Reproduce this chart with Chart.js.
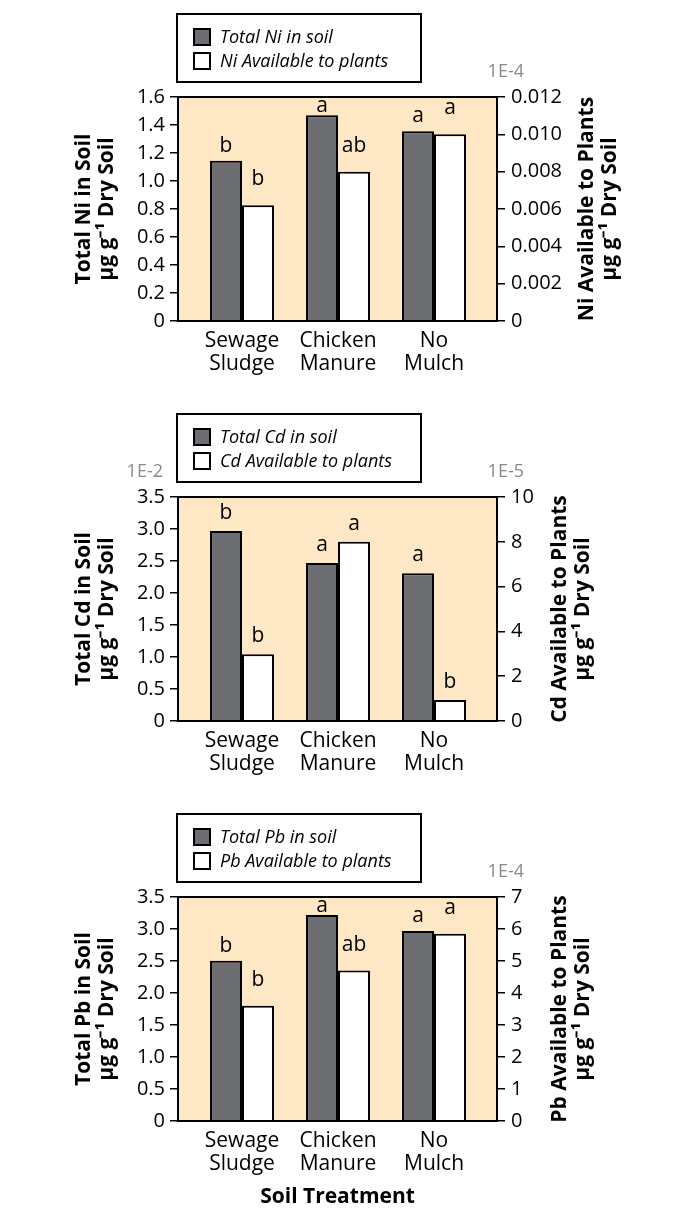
<!DOCTYPE html>
<html>
<head>
<meta charset="utf-8">
<script src="https://cdn.jsdelivr.net/npm/chart.js@4/dist/chart.umd.min.js"></script>
<style>
    body { margin: 0; background: #fff; }
    .panel { position: relative; width: 677px; }
</style>
</head>
<body>
<div class="panel" style="height:400px"><canvas id="ni_chart"></canvas></div>
<div class="panel" style="height:400px"><canvas id="cd_chart"></canvas></div>
<div class="panel" style="height:409px"><canvas id="pb_chart"></canvas></div>
<script>
const categories = ['Sewage Sludge', 'Chicken Manure', 'No Mulch'];

// Ni
const niTotal = [1.145, 1.47, 1.355];
const niAvailable = [0.0062, 0.0080, 0.0100];
const niTotalLetters = ['b', 'a', 'a'];
const niAvailableLetters = ['b', 'ab', 'a'];
const niTotalTicks = [0, 0.2, 0.4, 0.6, 0.8, 1.0, 1.2, 1.4, 1.6];
const niTotalTickLabels = ['0', '0.2', '0.4', '0.6', '0.8', '1.0', '1.2', '1.4', '1.6'];
const niAvailableTicks = [0, 0.002, 0.004, 0.006, 0.008, 0.010, 0.012];
const niAvailableTickLabels = ['0', '0.002', '0.004', '0.006', '0.008', '0.010', '0.012'];

// Cd
const cdTotal = [2.97, 2.47, 2.31];
const cdAvailable = [2.98, 8.0, 0.94];
const cdTotalLetters = ['b', 'a', 'a'];
const cdAvailableLetters = ['b', 'a', 'b'];
const cdTotalTicks = [0, 0.5, 1.0, 1.5, 2.0, 2.5, 3.0, 3.5];
const cdTotalTickLabels = ['0', '0.5', '1.0', '1.5', '2.0', '2.5', '3.0', '3.5'];
const cdAvailableTicks = [0, 2, 4, 6, 8, 10];
const cdAvailableTickLabels = ['0', '2', '4', '6', '8', '10'];

// Pb
const pbTotal = [2.505, 3.22, 2.97];
const pbAvailable = [3.6, 4.7, 5.85];
const pbTotalLetters = ['b', 'a', 'a'];
const pbAvailableLetters = ['b', 'ab', 'a'];
const pbTotalTicks = [0, 0.5, 1.0, 1.5, 2.0, 2.5, 3.0, 3.5];
const pbTotalTickLabels = ['0', '0.5', '1.0', '1.5', '2.0', '2.5', '3.0', '3.5'];
const pbAvailableTicks = [0, 1, 2, 3, 4, 5, 6, 7];
const pbAvailableTickLabels = ['0', '1', '2', '3', '4', '5', '6', '7'];

const FONT = "'Open Sans', sans-serif";
const PEACH = '#fee7c4';
const DARK = '#6d6e71';
const PLOT_TOP = 97;
const PLOT_BOTTOM = 321;

Chart.defaults.font.family = FONT;
Chart.defaults.color = '#000';

const panelPlugin = {
    id: 'panel',
    beforeDraw(chart) {
        const a = chart.chartArea;
        const ctx = chart.ctx;
        ctx.save();
        ctx.fillStyle = PEACH;
        ctx.fillRect(a.left, a.top, a.right - a.left, a.bottom - a.top);
        ctx.restore();
    },
    afterDatasetsDraw(chart) {
        const ctx = chart.ctx;
        const a = chart.chartArea;
        ctx.save();
        ctx.font = '21px ' + FONT;
        ctx.fillStyle = '#000';
        ctx.textAlign = 'center';
        ctx.textBaseline = 'alphabetic';
        chart.data.datasets.forEach((ds, di) => {
            chart.getDatasetMeta(di).data.forEach((bar, i) => {
                const y = Math.max(bar.y - ds.letterGap, a.top + 15);
                ctx.fillText(ds.letters[i], bar.x, y);
            });
        });
        ctx.restore();
    },
    afterDraw(chart, args, opts) {
        const ctx = chart.ctx;
        const a = chart.chartArea;
        ctx.save();
        // frame
        ctx.strokeStyle = '#000';
        ctx.lineWidth = 2;
        ctx.strokeRect(a.left, a.top, a.right - a.left, a.bottom - a.top);

        // legend box
        const bx = a.left - 1, by = a.top - 83, bw = 244, bh = 68;
        ctx.strokeRect(bx, by, bw, bh);
        ctx.font = 'italic 18px ' + FONT;
        ctx.textAlign = 'left';
        ctx.textBaseline = 'middle';
        chart.data.datasets.forEach((ds, di) => {
            const cy = by + 23 + di * 24;
            ctx.fillStyle = ds.backgroundColor;
            ctx.fillRect(bx + 17, cy - 8, 16, 16);
            ctx.strokeRect(bx + 17, cy - 8, 16, 16);
            ctx.fillStyle = '#000';
            ctx.fillText(ds.label, bx + 43, cy + 1);
        });

        // multipliers
        ctx.font = '18px ' + FONT;
        ctx.fillStyle = '#8a8a8a';
        ctx.textAlign = 'right';
        if (opts.leftMultiplier) ctx.fillText(opts.leftMultiplier, a.left - 15, a.top - 25);
        if (opts.rightMultiplier) ctx.fillText(opts.rightMultiplier, a.right + 27, a.top - 25);

        // right axis title, reading upward
        ctx.translate(opts.rightTitleX, (a.top + a.bottom) / 2);
        ctx.rotate(-Math.PI / 2);
        ctx.font = 'bold 21px ' + FONT;
        ctx.fillStyle = '#000';
        ctx.textAlign = 'center';
        opts.rightTitle.forEach((line, i) => ctx.fillText(line, 0, i * 23));
        ctx.restore();
    }
};

function make_chart(id, c) {
    const canvas = document.getElementById(id);
    const height = canvas.parentNode.clientHeight;
    return new Chart(canvas, {
        type: 'bar',
        data: {
            datasets: [{
                label: c.totalLabel,
                data: c.total.map((v, i) => ({ x: i + 1, y: v })),
                backgroundColor: DARK,
                borderColor: '#000',
                borderWidth: 2,
                yAxisID: 'y',
                letters: c.totalLetters,
                letterGap: c.gaps[0]
            }, {
                label: c.availableLabel,
                data: c.available.map((v, i) => ({ x: i + 1, y: v })),
                backgroundColor: '#ffffff',
                borderColor: '#000',
                borderWidth: 2,
                yAxisID: 'y2',
                letters: c.availableLetters,
                letterGap: c.gaps[1]
            }]
        },
        options: {
            responsive: true,
            maintainAspectRatio: false,
            animation: false,
            categoryPercentage: 64 / 96,
            barPercentage: 1,
            layout: { padding: { top: PLOT_TOP, left: 0, right: 0, bottom: 0 } },
            plugins: {
                legend: { display: false },
                tooltip: { enabled: false },
                panel: {
                    leftMultiplier: c.leftMultiplier,
                    rightMultiplier: c.rightMultiplier,
                    rightTitle: c.rightTitle,
                    rightTitleX: c.rightTitleX
                }
            },
            scales: {
                x: {
                    type: 'linear',
                    offset: false,
                    min: 0.333,
                    max: 3.656,
                    afterBuildTicks: s => { s.ticks = categories.map((_, i) => ({ value: i + 1 })); },
                    afterFit: s => { s.height = height - PLOT_BOTTOM; },
                    grid: { display: false, drawTicks: false },
                    border: { display: false },
                    ticks: {
                        autoSkip: false,
                        maxRotation: 0,
                        padding: 8,
                        font: { size: 21, lineHeight: 1.1 },
                        callback: v => categories[Math.round(v) - 1].split(' ')
                    },
                    title: {
                        display: !!c.xTitle,
                        text: c.xTitle || '',
                        font: { size: 21, weight: 'bold', lineHeight: 1.1 },
                        padding: { top: 0, bottom: 0 }
                    }
                },
                y: {
                    position: 'left',
                    min: c.totalTicks[0],
                    max: c.totalTicks[c.totalTicks.length - 1],
                    afterBuildTicks: s => { s.ticks = c.totalTicks.map(v => ({ value: v })); },
                    afterFit: s => { s.width = 178; },
                    grid: { drawOnChartArea: false, tickLength: 8, color: '#000', lineWidth: 1.5 },
                    border: { display: false },
                    ticks: {
                        padding: 5,
                        font: { size: 20 },
                        callback: (v, i) => c.totalTickLabels[i]
                    },
                    title: {
                        display: true,
                        text: c.leftTitle,
                        font: { size: 21, weight: 'bold', lineHeight: 1.1 },
                        padding: { top: 72, bottom: 0 }
                    }
                },
                y2: {
                    position: 'right',
                    min: c.availableTicks[0],
                    max: c.availableTicks[c.availableTicks.length - 1],
                    afterBuildTicks: s => { s.ticks = c.availableTicks.map(v => ({ value: v })); },
                    afterFit: s => { s.width = 180; },
                    grid: { drawOnChartArea: false, tickLength: 8, color: '#000', lineWidth: 1.5 },
                    border: { display: false },
                    ticks: {
                        padding: 6,
                        font: { size: 20 },
                        callback: (v, i) => c.availableTickLabels[i]
                    }
                }
            }
        },
        plugins: [panelPlugin]
    });
}

make_chart('ni_chart', {
    total: niTotal, available: niAvailable,
    totalLetters: niTotalLetters, availableLetters: niAvailableLetters,
    totalLabel: 'Total Ni in soil', availableLabel: 'Ni Available to plants',
    totalTicks: niTotalTicks, totalTickLabels: niTotalTickLabels,
    availableTicks: niAvailableTicks, availableTickLabels: niAvailableTickLabels,
    leftTitle: ['Total Ni in Soil', 'μg g⁻¹ Dry Soil'],
    rightTitle: ['Ni Available to Plants', 'μg g⁻¹ Dry Soil'],
    rightTitleX: 587, rightMultiplier: '1E-4', gaps: [9, 20]
});

make_chart('cd_chart', {
    total: cdTotal, available: cdAvailable,
    totalLetters: cdTotalLetters, availableLetters: cdAvailableLetters,
    totalLabel: 'Total Cd in soil', availableLabel: 'Cd Available to plants',
    totalTicks: cdTotalTicks, totalTickLabels: cdTotalTickLabels,
    availableTicks: cdAvailableTicks, availableTickLabels: cdAvailableTickLabels,
    leftTitle: ['Total Cd in Soil', 'μg g⁻¹ Dry Soil'],
    rightTitle: ['Cd Available to Plants', 'μg g⁻¹ Dry Soil'],
    rightTitleX: 560, leftMultiplier: '1E-2', rightMultiplier: '1E-5', gaps: [12, 12]
});

make_chart('pb_chart', {
    total: pbTotal, available: pbAvailable,
    totalLetters: pbTotalLetters, availableLetters: pbAvailableLetters,
    totalLabel: 'Total Pb in soil', availableLabel: 'Pb Available to plants',
    totalTicks: pbTotalTicks, totalTickLabels: pbTotalTickLabels,
    availableTicks: pbAvailableTicks, availableTickLabels: pbAvailableTickLabels,
    leftTitle: ['Total Pb in Soil', 'μg g⁻¹ Dry Soil'],
    rightTitle: ['Pb Available to Plants', 'μg g⁻¹ Dry Soil'],
    rightTitleX: 560, rightMultiplier: '1E-4', gaps: [9, 20],
    xTitle: 'Soil Treatment'
});
</script>
</body>
</html>
